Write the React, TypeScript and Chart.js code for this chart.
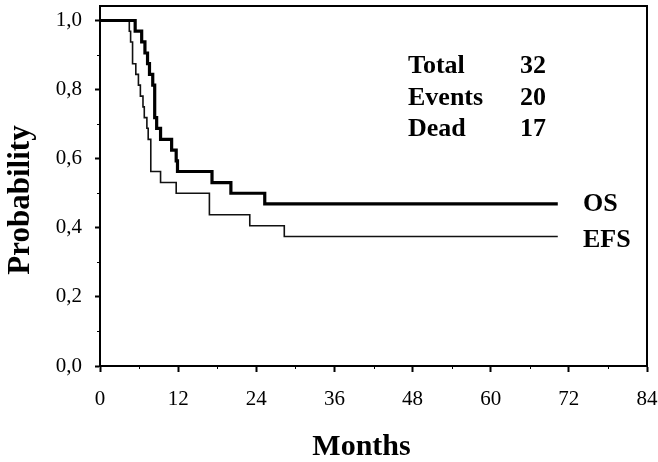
import React, { useEffect, useRef } from "react";
import { Chart, registerables } from "chart.js";

Chart.register(...registerables);

const osMonths = [0, 5.4, 6.4, 6.9, 7.3, 7.6, 8.1, 8.4, 8.7, 9.3, 11.0, 11.7, 11.9, 17.2, 20.1, 25.3, 70.3];
const osProb = [1.0, 0.969, 0.938, 0.906, 0.875, 0.844, 0.813, 0.719, 0.688, 0.656, 0.625, 0.594, 0.563, 0.531, 0.5, 0.469, 0.469];

const efsMonths = [0, 4.5, 4.7, 5.0, 5.5, 5.9, 6.2, 6.6, 6.8, 7.2, 7.4, 7.8, 9.3, 11.7, 16.8, 23.0, 28.3, 70.3];
const efsProb = [1.0, 0.969, 0.938, 0.875, 0.844, 0.813, 0.781, 0.75, 0.719, 0.688, 0.656, 0.563, 0.531, 0.5, 0.438, 0.406, 0.375, 0.375];

const xMajorTicks = [0, 12, 24, 36, 48, 60, 72, 84];
const xMinorTicks = [6, 18, 30, 42, 54, 66, 78];
const yMajorTicks = [0, 0.2, 0.4, 0.6, 0.8, 1.0];
const yMinorTicks = [0.1, 0.3, 0.5, 0.7, 0.9];

const statLabels = ["Total", "Events", "Dead"];
const statValues = ["32", "20", "17"];
const seriesLabels = ["OS", "EFS"];

const SERIF = "'Liberation Serif', 'Times New Roman', serif";

const annotationPlugin = {
  id: "annotations",
  afterDraw(chart: any) {
    const { ctx, chartArea, scales } = chart;
    const { left, right, top, bottom } = chartArea;
    ctx.save();
    ctx.strokeStyle = "#000";
    ctx.lineWidth = 2;
    // frame top and right
    ctx.beginPath();
    ctx.moveTo(left, top);
    ctx.lineTo(right, top);
    ctx.lineTo(right, bottom);
    ctx.stroke();
    // minor ticks
    ctx.lineWidth = 1;
    ctx.beginPath();
    for (const v of yMinorTicks) {
      const y = Math.round(scales.y.getPixelForValue(v)) + 0.5;
      ctx.moveTo(left - 3, y);
      ctx.lineTo(left, y);
    }
    for (const v of xMinorTicks) {
      const x = Math.round(scales.x.getPixelForValue(v)) + 0.5;
      ctx.moveTo(x, bottom);
      ctx.lineTo(x, bottom + 3);
    }
    ctx.stroke();

    ctx.fillStyle = "#000";
    ctx.font = `bold 26px ${SERIF}`;
    ctx.textBaseline = "alphabetic";
    const baselines = [72.6, 104.6, 135.6];
    statLabels.forEach((t, i) => {
      ctx.textAlign = "left";
      ctx.fillText(t, 408, baselines[i]);
      ctx.textAlign = "right";
      ctx.fillText(statValues[i], 546, baselines[i]);
    });
    ctx.textAlign = "left";
    ctx.fillText(seriesLabels[0], 583, 210.6);
    ctx.fillText(seriesLabels[1], 583, 246.6);

    // axis titles
    ctx.font = `bold 30px ${SERIF}`;
    ctx.textAlign = "center";
    ctx.fillText("Months", left + (right - left) / 2 - 12, 455);

    ctx.font = `bold 31px ${SERIF}`;
    ctx.translate(29, 200);
    ctx.rotate(-Math.PI / 2);
    ctx.textAlign = "center";
    ctx.fillText("Probability", 0, 0);
    ctx.restore();
  },
};

export default function App() {
  const canvasRef = useRef<HTMLCanvasElement | null>(null);

  useEffect(() => {
    document.body.style.margin = "0";
    const canvas = canvasRef.current;
    if (!canvas) return;
    const chart = new Chart(canvas, {
      type: "line",
      data: {
        datasets: [
          {
            label: seriesLabels[0],
            data: osMonths.map((m, i) => ({ x: m, y: osProb[i] })),
            borderColor: "#000",
            borderWidth: 3.2,
            stepped: "before",
            pointRadius: 0,
            fill: false,
          },
          {
            label: seriesLabels[1],
            data: efsMonths.map((m, i) => ({ x: m, y: efsProb[i] })),
            borderColor: "#111",
            borderWidth: 1.6,
            stepped: "before",
            pointRadius: 0,
            fill: false,
          },
        ],
      },
      options: {
        animation: false,
        responsive: false,
        maintainAspectRatio: false,
        layout: { padding: { top: 6, right: 11, left: 0, bottom: 0 } },
        plugins: {
          legend: { display: false },
          tooltip: { enabled: false },
          title: { display: false },
        },
        scales: {
          x: {
            type: "linear",
            min: 0,
            max: 84,
            afterBuildTicks: (scale: any) => {
              scale.ticks = xMajorTicks.map((v) => ({ value: v }));
            },
            afterFit: (scale: any) => {
              scale.height = 96;
              scale.paddingLeft = 0;
              scale.paddingRight = 0;
              scale.paddingTop = 0;
              scale.paddingBottom = 0;
            },
            grid: {
              drawOnChartArea: false,
              drawTicks: true,
              tickLength: 6,
              tickWidth: 2,
              tickColor: "#000",
            },
            border: { display: true, color: "#000", width: 2 },
            ticks: {
              color: "#000",
              font: { family: SERIF, size: 21 },
              padding: 15,
              maxRotation: 0,
              autoSkip: false,
              callback: (v: any) => String(v),
            },
          },
          y: {
            type: "linear",
            min: 0,
            max: 1.042,
            afterBuildTicks: (scale: any) => {
              scale.ticks = yMajorTicks.map((v) => ({ value: v }));
            },
            afterFit: (scale: any) => {
              scale.width = 100;
              scale.paddingLeft = 0;
              scale.paddingRight = 0;
              scale.paddingTop = 0;
              scale.paddingBottom = 0;
            },
            grid: {
              drawOnChartArea: false,
              drawTicks: true,
              tickLength: 5,
              tickWidth: 2,
              tickColor: "#000",
            },
            border: { display: true, color: "#000", width: 2 },
            ticks: {
              color: "#000",
              font: { family: SERIF, size: 21 },
              padding: 13,
              autoSkip: false,
              callback: (v: any) => Number(v).toFixed(1).replace(".", ","),
            },
          },
        },
      },
      plugins: [annotationPlugin],
    });
    return () => chart.destroy();
  }, []);

  return (
    <div style={{ position: "fixed", left: 0, top: 0, width: 658, height: 462, background: "#fff" }}>
      <canvas ref={canvasRef} width={658} height={462} style={{ display: "block" }} />
    </div>
  );
}
